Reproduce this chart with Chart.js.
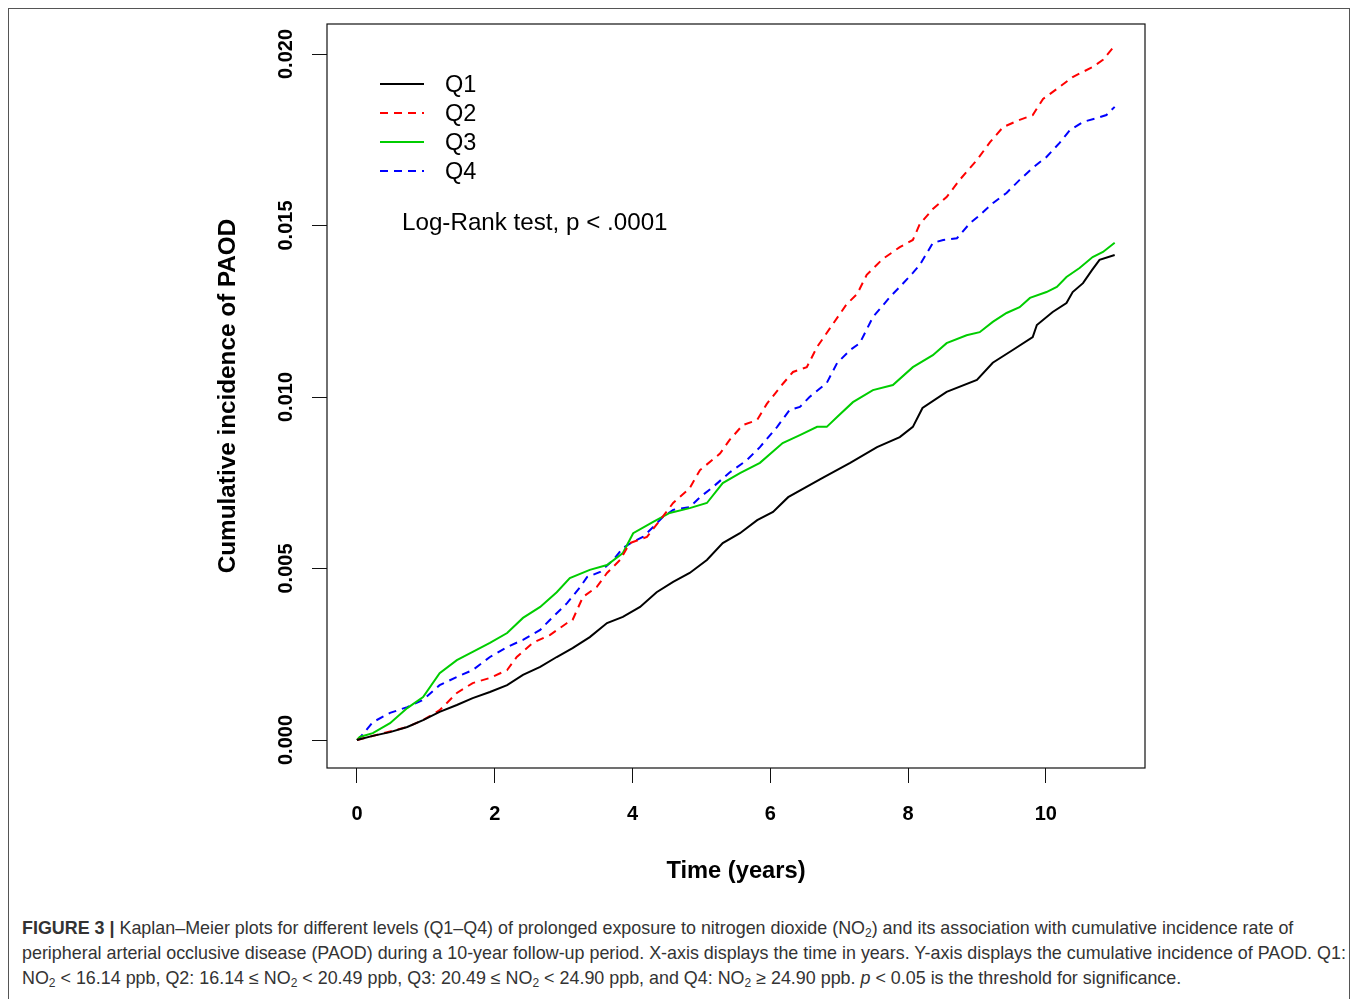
<!DOCTYPE html>
<html>
<head>
<meta charset="utf-8">
<script src="https://cdn.jsdelivr.net/npm/chart.js@4.4.1/dist/chart.umd.min.js"></script>
<style>
  body { margin: 0; background: #fff; }
  #frame { position: absolute; left: 8px; top: 8px; width: 1340px; height: 1100px; border: 1px solid #555; }
  #chartKM { position: absolute; left: 0; top: 0; }
  #caption { position: absolute; left: 22px; top: 916px; font-family: "Liberation Sans", Arial, sans-serif;
             font-size: 17.9px; line-height: 25px; color: #333; white-space: nowrap; }
  #caption sub { font-size: 12px; vertical-align: -3px; line-height: 0; }
</style>
</head>
<body>
<div id="frame"></div>
<canvas id="chartKM" width="1357" height="900"></canvas>
<div id="caption">
  <b>FIGURE 3 |</b> Kaplan–Meier plots for different levels (Q1–Q4) of prolonged exposure to nitrogen dioxide (NO<sub>2</sub>) and its association with cumulative incidence rate of<br>
  peripheral arterial occlusive disease (PAOD) during a 10-year follow-up period. X-axis displays the time in years. Y-axis displays the cumulative incidence of PAOD. Q1:<br>
  NO<sub>2</sub> &lt; 16.14 ppb, Q2: 16.14 ≤ NO<sub>2</sub> &lt; 20.49 ppb, Q3: 20.49 ≤ NO<sub>2</sub> &lt; 24.90 ppb, and Q4: NO<sub>2</sub> ≥ 24.90 ppb. <i>p</i> &lt; 0.05 is the threshold for significance.
</div>
<script>
// dữ liệu
const groupNames = ['Q1', 'Q2', 'Q3', 'Q4'];
const timeTicks = [0, 2, 4, 6, 8, 10];
const incTicks = [0, 0.005, 0.010, 0.015, 0.020];
const incTickLabels = ['0.000', '0.005', '0.010', '0.015', '0.020'];

const q1Time = [0, 0.23, 0.48, 0.73, 0.96, 1.2, 1.45, 1.68, 1.93, 2.18, 2.41, 2.66, 2.9, 3.13, 3.38, 3.63, 3.86, 4.11, 4.35, 4.59, 4.83, 5.08, 5.31, 5.56, 5.81, 6.04, 6.26, 6.76, 7.16, 7.55, 7.88, 8.07, 8.21, 8.56, 9.0, 9.23, 9.52, 9.81, 9.87, 10.1, 10.3, 10.39, 10.54, 10.67, 10.78, 11.0];
const q1Inc = [0, 0.00012, 0.00023, 0.00038, 0.00058, 0.00082, 0.00102, 0.00122, 0.0014, 0.0016, 0.0019, 0.00213, 0.00242, 0.00268, 0.003, 0.00341, 0.00359, 0.00388, 0.00431, 0.00461, 0.00487, 0.00525, 0.00574, 0.00603, 0.00641, 0.00665, 0.00708, 0.00764, 0.00808, 0.00854, 0.00883, 0.00913, 0.00968, 0.01015, 0.0105, 0.011, 0.01137, 0.01175, 0.0121, 0.01248, 0.01274, 0.01306, 0.01332, 0.0137, 0.014, 0.01414];

const q2Time = [0, 0.48, 0.73, 0.96, 1.2, 1.45, 1.68, 1.93, 2.18, 2.32, 2.55, 2.8, 3.05, 3.13, 3.28, 3.48, 3.63, 3.82, 3.96, 4.21, 4.4, 4.59, 4.83, 4.98, 5.27, 5.41, 5.6, 5.81, 5.95, 6.18, 6.33, 6.53, 6.68, 6.91, 7.11, 7.26, 7.4, 7.63, 7.88, 8.07, 8.17, 8.36, 8.56, 8.75, 9.0, 9.19, 9.38, 9.62, 9.81, 9.96, 10.2, 10.39, 10.68, 10.83, 10.97];
const q2Inc = [0, 0.00025, 0.00038, 0.00058, 0.00087, 0.00137, 0.00166, 0.00181, 0.00204, 0.00242, 0.00283, 0.00306, 0.00341, 0.0035, 0.00417, 0.00446, 0.00487, 0.00525, 0.00574, 0.00592, 0.00641, 0.00691, 0.00734, 0.00787, 0.00835, 0.00875, 0.00918, 0.00933, 0.0098, 0.01038, 0.01073, 0.01087, 0.01146, 0.01213, 0.01271, 0.013, 0.01356, 0.01402, 0.01437, 0.01458, 0.01504, 0.01548, 0.01583, 0.01633, 0.01691, 0.01743, 0.01787, 0.01808, 0.01822, 0.01869, 0.01904, 0.01933, 0.01962, 0.01983, 0.02017];

const q3Time = [0, 0.04, 0.23, 0.48, 0.73, 0.96, 1.2, 1.45, 1.68, 1.93, 2.18, 2.41, 2.66, 2.9, 3.09, 3.38, 3.63, 3.86, 4.01, 4.3, 4.54, 4.83, 5.08, 5.31, 5.56, 5.85, 6.18, 6.43, 6.68, 6.82, 6.97, 7.2, 7.49, 7.78, 8.07, 8.36, 8.56, 8.85, 9.04, 9.23, 9.43, 9.62, 9.77, 10.01, 10.16, 10.3, 10.49, 10.68, 10.83, 11.0];
const q3Inc = [0, 0.00009, 0.0002, 0.00049, 0.00093, 0.00125, 0.00195, 0.00233, 0.00257, 0.00283, 0.00312, 0.00356, 0.00388, 0.00431, 0.00472, 0.00496, 0.0051, 0.00545, 0.00603, 0.00636, 0.00662, 0.00676, 0.00691, 0.00749, 0.00778, 0.00808, 0.00866, 0.00889, 0.00913, 0.00913, 0.00942, 0.00985, 0.0102, 0.01035, 0.01087, 0.01122, 0.01157, 0.0118, 0.01189, 0.01219, 0.01245, 0.01262, 0.01289, 0.01306, 0.01321, 0.0135, 0.01376, 0.01408, 0.01423, 0.0145];

const q4Time = [0, 0.04, 0.23, 0.48, 0.73, 0.96, 1.2, 1.45, 1.68, 1.93, 2.18, 2.41, 2.66, 2.8, 3.05, 3.24, 3.34, 3.53, 3.72, 3.86, 4.01, 4.15, 4.3, 4.44, 4.59, 4.83, 4.98, 5.17, 5.41, 5.66, 5.85, 6.1, 6.28, 6.43, 6.57, 6.82, 6.97, 7.16, 7.3, 7.49, 7.74, 7.88, 8.07, 8.17, 8.36, 8.51, 8.71, 8.9, 9.04, 9.23, 9.43, 9.62, 9.81, 10.01, 10.2, 10.35, 10.54, 10.74, 10.88, 11.0];
const q4Inc = [0, 0.00006, 0.00052, 0.00079, 0.00096, 0.00117, 0.0016, 0.00184, 0.00204, 0.00242, 0.00271, 0.00292, 0.00321, 0.0035, 0.00399, 0.00446, 0.00475, 0.0049, 0.00525, 0.0056, 0.00578, 0.00592, 0.00621, 0.0065, 0.00671, 0.00679, 0.00708, 0.00738, 0.0078, 0.00816, 0.00854, 0.00913, 0.00962, 0.00971, 0.01, 0.01041, 0.01099, 0.01137, 0.01157, 0.01233, 0.01292, 0.01321, 0.01362, 0.01385, 0.01449, 0.01458, 0.01463, 0.01507, 0.0153, 0.01565, 0.01595, 0.01633, 0.01668, 0.017, 0.01741, 0.01778, 0.01802, 0.01813, 0.01822, 0.01846];

const FONT = '"Liberation Sans", Arial, Helvetica, sans-serif';

function toPoints(times, values) {
    return times.map(function (t, i) { return { x: t, y: values[i] }; });
}

// vẽ khung, nhãn trục y xoay, tiêu đề trục, chú thích
const kmDecor = {
    id: 'kmDecor',
    afterDraw: function (chart) {
        const ctx = chart.ctx;
        const a = chart.chartArea;
        const sy = chart.scales.y;
        ctx.save();
        ctx.strokeStyle = '#111';
        ctx.lineWidth = 1.2;
        ctx.strokeRect(a.left, a.top, a.right - a.left, a.bottom - a.top);

        ctx.fillStyle = '#000';
        ctx.textAlign = 'center';
        ctx.textBaseline = 'middle';
        ctx.font = 'bold 20px ' + FONT;
        incTicks.forEach(function (v, i) {
            ctx.save();
            ctx.translate(286, sy.getPixelForValue(v));
            ctx.rotate(-Math.PI / 2);
            ctx.fillText(incTickLabels[i], 0, 0);
            ctx.restore();
        });

        ctx.font = 'bold 24.3px ' + FONT;
        ctx.save();
        ctx.translate(228, (a.top + a.bottom) / 2);
        ctx.rotate(-Math.PI / 2);
        ctx.fillText('Cumulative incidence of PAOD', 0, 0);
        ctx.restore();
        ctx.font = 'bold 23.7px ' + FONT;
        ctx.fillText('Time (years)', (a.left + a.right) / 2, 871);

        // chú thích
        ctx.font = '23.5px ' + FONT;
        ctx.textAlign = 'left';
        chart.data.datasets.forEach(function (ds, i) {
            const ly = 84 + i * 29;
            ctx.beginPath();
            ctx.strokeStyle = ds.borderColor;
            ctx.lineWidth = 2;
            ctx.setLineDash(ds.borderDash || []);
            ctx.moveTo(380, ly);
            ctx.lineTo(424, ly);
            ctx.stroke();
            ctx.fillText(ds.label, 445, ly + 2);
        });
        ctx.setLineDash([]);
        ctx.font = '24.2px ' + FONT;
        ctx.fillText('Log-Rank test, p < .0001', 402, 223);
        ctx.restore();
    }
};

const ctxKM = document.getElementById('chartKM');
new Chart(ctxKM, {
    type: 'line',
    data: {
        datasets: [
            { label: groupNames[0], data: toPoints(q1Time, q1Inc), borderColor: '#000000', borderWidth: 2 },
            { label: groupNames[1], data: toPoints(q2Time, q2Inc), borderColor: '#ff0000', borderWidth: 2, borderDash: [8, 6] },
            { label: groupNames[2], data: toPoints(q3Time, q3Inc), borderColor: '#00cd00', borderWidth: 2 },
            { label: groupNames[3], data: toPoints(q4Time, q4Inc), borderColor: '#0000ff', borderWidth: 2, borderDash: [8, 6] }
        ]
    },
    options: {
        responsive: false,
        animation: false,
        elements: { point: { radius: 0 }, line: { tension: 0, fill: false } },
        layout: { padding: { top: 24, right: 212, left: 0, bottom: 0 } },
        plugins: { legend: { display: false }, tooltip: { enabled: false } },
        scales: {
            x: {
                type: 'linear',
                min: -0.435,
                max: 11.44,
                afterBuildTicks: function (s) { s.ticks = timeTicks.map(function (v) { return { value: v }; }); },
                afterFit: function (s) { s.height = 132; },
                border: { display: false },
                grid: { drawOnChartArea: false, drawTicks: true, tickLength: 15, color: '#111', lineWidth: 1 },
                ticks: { color: '#000', font: { family: FONT, size: 20, weight: 'bold' }, padding: 19, maxRotation: 0 }
            },
            y: {
                type: 'linear',
                min: -0.000816,
                max: 0.020875,
                afterBuildTicks: function (s) { s.ticks = incTicks.map(function (v) { return { value: v }; }); },
                afterFit: function (s) { s.width = 327; },
                border: { display: false },
                grid: { drawOnChartArea: false, drawTicks: true, tickLength: 15, color: '#111', lineWidth: 1 },
                ticks: { display: false }
            }
        }
    },
    plugins: [kmDecor]
});
</script>
</body>
</html>
